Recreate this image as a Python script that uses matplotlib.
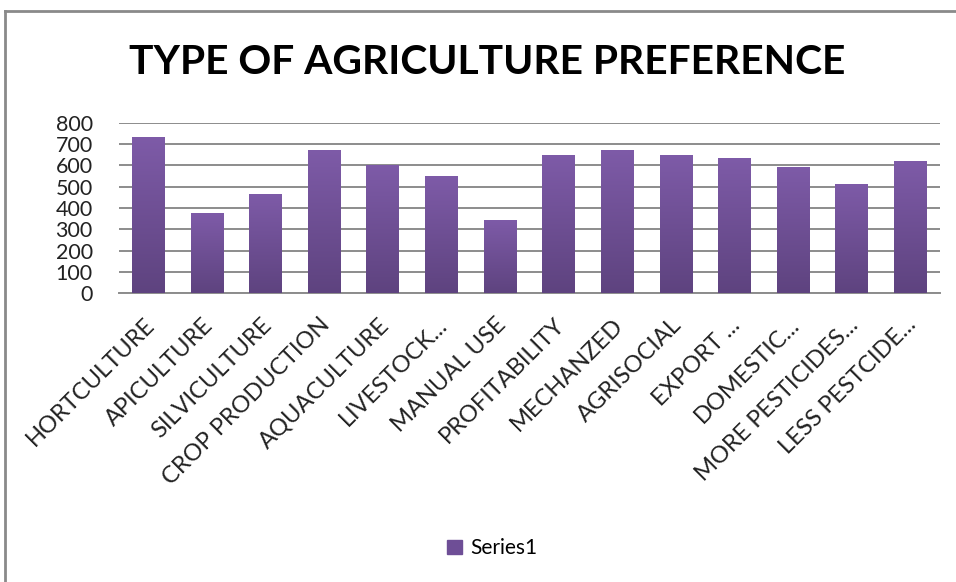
import numpy as np
import matplotlib.pyplot as plt
from matplotlib.colors import LinearSegmentedColormap
from matplotlib.lines import Line2D
from matplotlib.patches import Patch

categories = ["HORTCULTURE", "APICULTURE", "SILVICULTURE", "CROP PRODUCTION",
              "AQUACULTURE", "LIVESTOCK...", "MANUAL USE", "PROFITABILITY",
              "MECHANZED", "AGRISOCIAL", "EXPORT ...", "DOMESTIC...",
              "MORE PESTICIDES...", "LESS PESTCIDE..."]
values = [732, 375, 466, 673, 604, 550, 346, 648, 673, 648, 635, 593, 514, 623]
yticks = [0, 100, 200, 300, 400, 500, 600, 700, 800]

plt.rcParams['font.family'] = ['Lato', 'DejaVu Sans']

fig = plt.figure(figsize=(9.56, 5.82), dpi=100)
ax = fig.add_axes([0.1245, 0.496, 0.8585, 0.293])

x = np.arange(len(categories))
bars = ax.bar(x, values, width=0.56, color='#6E4E96', zorder=2)

# vertical gradient inside each bar, lighter at the top
cmap = LinearSegmentedColormap.from_list('purp', ['#5E437F', '#7E5BA8'])
grad = np.linspace(0, 1, 256).reshape(-1, 1)
for b in bars:
    x0, w, h = b.get_x(), b.get_width(), b.get_height()
    im = ax.imshow(grad, cmap=cmap, origin='lower', aspect='auto',
                   extent=[x0, x0 + w, 0, h], zorder=3)
    im.set_clip_path(b)

ax.set_xlim(-0.5, len(categories) - 0.5)
ax.set_ylim(0, 800)
ax.set_yticks(yticks)
ax.set_yticklabels([str(v) for v in yticks], fontsize=15.5, color='#222222')
ax.yaxis.grid(True, color='#8C8C8C', linewidth=1.4, zorder=0)
ax.set_axisbelow(True)
for s in ['top', 'right', 'left']:
    ax.spines[s].set_visible(False)
ax.spines['bottom'].set_color('#8C8C8C')
ax.spines['bottom'].set_linewidth(1.4)
ax.tick_params(axis='y', length=0, pad=19)
ax.tick_params(axis='x', length=0, pad=15)
ax.set_xticks(x - 0.08)
ax.set_xticklabels(categories, rotation=45, ha='right', rotation_mode='anchor',
                   fontsize=17, color='#222222')

fig.text(0.51, 0.893, "TYPE OF AGRICULTURE PREFERENCE", ha='center', va='center',
         fontsize=29.3, fontweight='bold', color='black')

# legend
fig.legend(handles=[Patch(color='#6E4E96', label='Series1')],
           loc='center', bbox_to_anchor=(0.515, 0.058), frameon=False,
           fontsize=15, handlelength=0.7, handleheight=0.7, handletextpad=0.4)

# chart border (left and top visible)
fig.add_artist(Line2D([4.5 / 956, 4.5 / 956], [0, 1 - 10.5 / 582],
                      transform=fig.transFigure, color='#8A8A8A', linewidth=2))
fig.add_artist(Line2D([4.5 / 956, 1], [1 - 10.5 / 582, 1 - 10.5 / 582],
                      transform=fig.transFigure, color='#8A8A8A', linewidth=2))

fig.savefig('out.png', dpi=100)
